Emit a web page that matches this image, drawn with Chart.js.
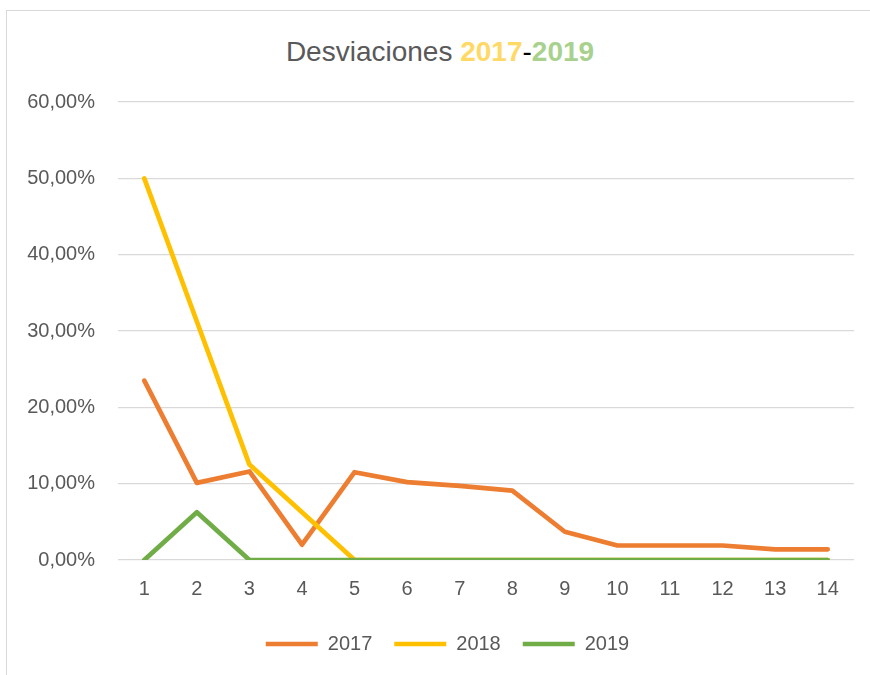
<!DOCTYPE html>
<html>
<head>
<meta charset="utf-8">
<script src="https://cdn.jsdelivr.net/npm/chart.js@4"></script>
<style>
  html, body { margin: 0; padding: 0; background: #fff; overflow: hidden; }
  #wrap { position: relative; width: 870px; height: 675px; }
  #frame {
    position: absolute; left: 6px; top: 10px; width: 900px; height: 700px;
    border: 1.5px solid #d9d9d9; box-sizing: border-box;
  }
  #title {
    position: absolute; left: 0; width: 880px; top: 34px; text-align: center;
    font-family: "Liberation Sans", Arial, sans-serif; font-size: 28px; color: #595959;
    line-height: 36px;
  }
  #title .y17 { color: #ffd966; font-weight: bold; }
  #title .y19 { color: #a9d18e; font-weight: bold; }
  #title .dash { color: #000; }
  canvas { position: absolute; left: 0; top: 0; }
</style>
</head>
<body>
<div id="wrap">
  <div id="frame"></div>
  <div id="title">Desviaciones <span class="y17">2017</span><span class="dash">-</span><span class="y19">2019</span></div>
  <canvas id="chart" width="870" height="675"></canvas>
</div>
<script>
// categorias (1..14)
const categories = ['1', '2', '3', '4', '5', '6', '7', '8', '9', '10', '11', '12', '13', '14'];

// desviaciones en %
const values2017 = [23.5, 10.1, 11.6, 2.0, 11.5, 10.2, 9.7, 9.1, 3.7, 1.9, 1.9, 1.9, 1.4, 1.4];
const values2018 = [50.0, 31.25, 12.5, 6.25, 0, 0, 0, 0, 0, 0, 0, 0, 0, 0];
const values2019 = [0, 6.25, 0, 0, 0, 0, 0, 0, 0, 0, 0, 0, 0, 0];

const seriesLabels = ['2017', '2018', '2019'];
const seriesColors = ['#ed7d31', '#ffc000', '#70ad47'];

const yTicks = [0, 10, 20, 30, 40, 50, 60];

const FONT = '"Liberation Sans", Arial, sans-serif';
const TEXT_COLOR = '#595959';

// la última serie se dibuja encima (como en Excel)
function makeDataset(label, data, color, order) {
  return {
    label: label,
    data: data,
    order: order,
    borderColor: color,
    backgroundColor: color,
    borderWidth: 4.7,
    borderCapStyle: 'round',
    borderJoinStyle: 'round',
    pointRadius: 0,
    pointHoverRadius: 0,
    tension: 0,
    fill: false
  };
}

// desplaza un poco la leyenda a la derecha
const legendShift = {
  id: 'legendShift',
  afterLayout(chart) {
    if (chart.legend) {
      chart.legend.left += 8;
      chart.legend.right += 8;
    }
  }
};

const ctx = document.getElementById('chart').getContext('2d');

new Chart(ctx, {
  type: 'line',
  data: {
    labels: categories,
    datasets: [
      makeDataset(seriesLabels[0], values2017, seriesColors[0], 3),
      makeDataset(seriesLabels[1], values2018, seriesColors[1], 2),
      makeDataset(seriesLabels[2], values2019, seriesColors[2], 1)
    ]
  },
  plugins: [legendShift],
  options: {
    responsive: false,
    animation: false,
    layout: {
      padding: { left: 25, right: 16, top: 102, bottom: 11 }
    },
    plugins: {
      title: { display: false },
      tooltip: { enabled: false },
      legend: {
        display: true,
        position: 'bottom',
        labels: {
          usePointStyle: true,
          pointStyle: 'line',
          pointStyleWidth: 52,
          padding: 22,
          color: TEXT_COLOR,
          font: { family: FONT, size: 20 },
          sort: (a, b) => a.datasetIndex - b.datasetIndex
        }
      }
    },
    scales: {
      x: {
        offset: true,
        grid: { display: false },
        border: { display: false },
        ticks: {
          color: TEXT_COLOR,
          padding: 9,
          maxRotation: 0,
          font: { family: FONT, size: 20 }
        },
        afterFit(scale) { scale.height = 52; }
      },
      y: {
        min: 0,
        max: 60,
        grid: { color: '#d9d9d9', lineWidth: 1.2, drawTicks: false },
        border: { display: false },
        afterBuildTicks(scale) {
          scale.ticks = yTicks.map(v => ({ value: v }));
        },
        ticks: {
          color: TEXT_COLOR,
          padding: 23,
          font: { family: FONT, size: 20 },
          callback: v => v.toFixed(2).replace('.', ',') + '%'
        },
        afterFit(scale) { scale.width = 93; }
      }
    }
  }
});
</script>
</body>
</html>
